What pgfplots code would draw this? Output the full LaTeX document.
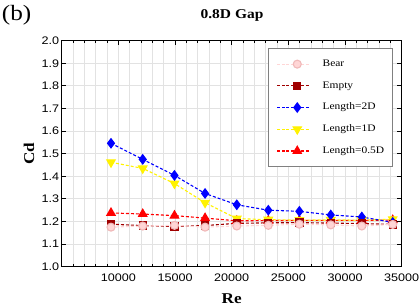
\documentclass[border=0pt]{standalone}
\usepackage{pgfplots}
\pgfplotsset{compat=1.18}
\usepackage{fontspec}
\setmainfont{Liberation Serif}[FakeStretch=1.15]
\newfontfamily\arial{Liberation Sans}[FakeStretch=1.15]
\definecolor{bearc}{RGB}{255,214,214}
\definecolor{beard}{RGB}{240,185,185}
\definecolor{emptyc}{RGB}{160,0,0}
\definecolor{gridc}{RGB}{226,226,226}
\tikzset{dstyle/.style={line width=1.1bp, dash pattern=on 3bp off 2bp}}
\begin{document}
\begin{tikzpicture}
\begin{axis}[
  at={(0,0)}, anchor=south west,
  scale only axis, width=340bp, height=226bp,
  xmin=5000, xmax=35000, ymin=1.0, ymax=2.0,
  xtick={10000,15000,20000,25000,30000,35000},
  minor xtick={5000,6000,...,35000},
  ytick={1.0,1.1,1.2,1.3,1.4,1.5,1.6,1.7,1.8,1.9,2.0},
  grid=both,
  major grid style={gridc, line width=0.8bp},
  minor grid style={gridc, line width=0.8bp},
  axis line style={line width=1.2bp, black},
  tick style={black, line width=1bp},
  major tick length=4.5bp, minor tick length=2.5bp,
  /pgf/number format/assume math mode=true,
  tick label style={font=\arial\fontsize{11}{12}\selectfont},
  scaled x ticks=false,
  xticklabel style={/pgf/number format/1000 sep={}, inner sep=0pt, yshift=-7.3bp},
  yticklabel style={/pgf/number format/.cd, fixed, fixed zerofill, precision=1, /tikz/.cd, inner sep=2.4bp},
  xlabel={Re}, ylabel={Cd},
  xlabel style={at={(axis description cs:0.5,-0.162)}, anchor=base, font=\fontsize{15}{16}\selectfont\bfseries},
  ylabel style={at={(axis description cs:-0.0962,0.5)}, anchor=center, font=\fontsize{15}{16}\selectfont\bfseries},
  reverse legend,
  legend style={at={(rel axis cs:0.608,0.966)}, anchor=north west, draw=gray,
    font=\fontsize{10}{12}\selectfont, inner xsep=8.3bp, inner ysep=10.8bp, row sep=12.2bp, column sep=13.4bp,
    nodes={inner sep=0pt, text height=7bp, text depth=2.5bp}},
  legend cell align=left,
  legend image code/.code={\path (0bp,0bp) -- (8.4bp,0bp);
    \draw[mark repeat=2,mark phase=2,#1] plot coordinates {(8.4bp,0bp)(19.8bp,0bp)(31.2bp,0bp)};},
]
\addplot[red, dstyle, mark=triangle*, mark size=4.8bp, mark options={solid, fill=red}] coordinates {
(9350,1.238) (12150,1.233) (14950,1.226) (17650,1.215) (20450,1.203) (23230,1.204) (25970,1.205) (28740,1.205) (31480,1.205) (34210,1.206)};
\addlegendentry{Length=0.5D}
\addplot[yellow, dstyle, mark=triangle*, mark size=4.8bp, mark options={solid, fill=yellow, rotate=180}] coordinates {
(9350,1.462) (12150,1.435) (14950,1.368) (17650,1.283) (20450,1.213) (23230,1.208) (25970,1.206) (28740,1.207) (31480,1.206) (34210,1.210)};
\addlegendentry{Length=1D}
\addplot[blue, dstyle, mark=diamond*, mark size=4.6bp, mark options={solid, fill=blue}] coordinates {
(9350,1.546) (12150,1.475) (14950,1.404) (17650,1.324) (20450,1.274) (23230,1.250) (25970,1.245) (28740,1.229) (31480,1.220) (34210,1.196)};
\addlegendentry{Length=2D}
\addplot[emptyc, dstyle, mark=square*, mark size=3.6bp, mark options={solid, fill=emptyc}] coordinates {
(9350,1.188) (12150,1.182) (14950,1.178) (17650,1.182) (20450,1.192) (23230,1.194) (25970,1.195) (28740,1.193) (31480,1.191) (34210,1.187)};
\addlegendentry{Empty}
\addplot[bearc, dstyle, mark=*, mark size=4bp, mark options={solid, fill=bearc, draw=beard}] coordinates {
(9350,1.175) (12150,1.180) (14950,1.183) (17650,1.175) (20450,1.180) (23230,1.183) (25970,1.188) (28740,1.185) (31480,1.180) (34210,1.187)};
\addlegendentry{Bear}
\end{axis}
\node[anchor=base, inner sep=0pt, font=\fontsize{13.5}{15}\selectfont\bfseries] at (170.3bp,247.7bp) {0.8D Gap};
\node[anchor=base west, inner sep=0pt, font=\fontsize{22}{24}\selectfont] at (-60bp,246bp) {(b)};
\path (-61.7bp,-39.3bp) rectangle (358.3bp,266.7bp);
\end{tikzpicture}
\end{document}
